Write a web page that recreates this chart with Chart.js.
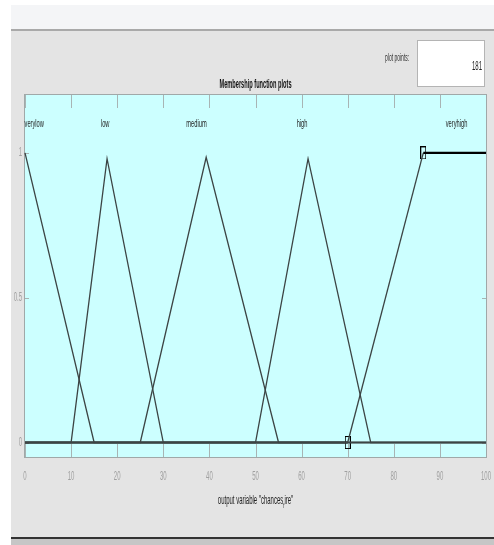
<!DOCTYPE html>
<html>
<head>
<meta charset="utf-8">
<script src="https://cdn.jsdelivr.net/npm/chart.js@4/dist/chart.umd.min.js"></script>
<style>
  html, body { margin: 0; padding: 0; background: #fff; }
  #wrap { width: 494px; height: 545px; }
</style>
</head>
<body>
<div id="wrap"><canvas id="mfChart" width="494" height="545"></canvas></div>
<script>
// ── Data ──
const mfNames = ['verylow', 'low', 'medium', 'high', 'veryhigh'];
const verylowX  = [0, 15, 100];
const verylowY  = [1, 0, 0];
const lowX      = [0, 10, 17.8, 30, 100];
const lowY      = [0, 0, 0.98, 0, 0];
const mediumX   = [0, 25, 39.3, 55, 100];
const mediumY   = [0, 0, 0.985, 0, 0];
const highX     = [0, 50, 61.4, 75, 100];
const highY     = [0, 0, 0.98, 0, 0];
const veryhighX = [0, 70, 86.4, 100];
const veryhighY = [0, 0, 1, 1];
const labelX    = [2, 17.4, 37.2, 60.1, 93.6];
const labelY    = 1.1;
const handleIdx = [1, 2];            // selected MF vertices shown with handles
const xTicks    = [0, 10, 20, 30, 40, 50, 60, 70, 80, 90, 100];
const yTicks    = [0, 0.5, 1];
const yTickText = ['0', '0.5', '1'];
const plotPoints = '181';

const pts = (xs, ys) => xs.map((x, i) => ({ x, y: ys[i] }));

// tall thin handle marker like MATLAB's vertex handles
const handle = document.createElement('canvas');
handle.width = 6; handle.height = 13;
(() => {
  const c = handle.getContext('2d');
  c.strokeStyle = '#000'; c.lineWidth = 1;
  c.strokeRect(0.5, 0.5, 5, 12);
})();

// squeezed text helper (the screenshot's fonts are horizontally compressed)
function sText(ctx, text, x, y, font, color, align, sx) {
  ctx.save();
  ctx.font = font;
  ctx.fillStyle = color;
  ctx.textBaseline = 'middle';
  ctx.textAlign = 'left';
  const w = ctx.measureText(text).width * sx;
  const left = align === 'center' ? x - w / 2 : align === 'right' ? x - w : x;
  ctx.translate(left, y);
  ctx.scale(sx, 1);
  ctx.fillText(text, 0, 0);
  ctx.restore();
  return w;
}

const FONT = "'Liberation Sans', Arial, sans-serif";

const frame = {
  id: 'matlabFrame',
  beforeDraw(chart) {
    const { ctx, chartArea: a } = chart;
    ctx.save();
    ctx.fillStyle = '#ffffff';
    ctx.fillRect(0, 0, 494, 545);
    ctx.fillStyle = '#f4f5f7';
    ctx.fillRect(11, 5, 483, 24);
    ctx.fillStyle = '#a9a9a9';
    ctx.fillRect(11, 29, 483, 2);
    ctx.fillStyle = '#e4e4e4';
    ctx.fillRect(11, 31, 483, 506);
    ctx.fillStyle = '#333333';
    ctx.fillRect(11, 537, 483, 2);
    ctx.fillStyle = '#c6c6c6';
    ctx.fillRect(11, 539, 483, 6);

    // plot points box
    ctx.fillStyle = '#ffffff';
    ctx.fillRect(417, 40, 68, 47);
    ctx.strokeStyle = '#b4b4b4';
    ctx.lineWidth = 1;
    ctx.strokeRect(417.5, 40.5, 67, 46);

    // axes background
    ctx.fillStyle = '#ccffff';
    ctx.fillRect(a.left, a.top, a.right - a.left, a.bottom - a.top);
    ctx.restore();
  },
  beforeDatasetsDraw(chart) {
    const { ctx, chartArea: a, scales: { x, y } } = chart;
    ctx.save();
    ctx.strokeStyle = '#a8b4b4';
    ctx.lineWidth = 1;
    xTicks.forEach(v => {
      const px = Math.round(x.getPixelForValue(v)) + 0.5;
      ctx.beginPath();
      ctx.moveTo(px, a.top); ctx.lineTo(px, a.top + 13);
      ctx.moveTo(px, a.bottom); ctx.lineTo(px, a.bottom - 13);
      ctx.stroke();
    });
    yTicks.forEach(v => {
      const py = Math.round(y.getPixelForValue(v)) + 0.5;
      ctx.beginPath();
      ctx.moveTo(a.left, py); ctx.lineTo(a.left + 4, py);
      ctx.moveTo(a.right, py); ctx.lineTo(a.right - 4, py);
      ctx.stroke();
    });
    ctx.strokeStyle = '#a0a8a8';
    ctx.strokeRect(a.left - 0.5, a.top - 0.5, a.right - a.left + 1, a.bottom - a.top + 1);
    ctx.restore();
  },
  afterDraw(chart) {
    const { ctx, chartArea: a, scales: { x, y } } = chart;
    // tick labels
    xTicks.forEach(v => {
      sText(ctx, String(v), x.getPixelForValue(v), 477, '12px ' + FONT, '#a0a0a0', 'center', 0.5);
    });
    yTicks.forEach((v, i) => {
      sText(ctx, yTickText[i], 22, y.getPixelForValue(v), '12px ' + FONT, '#a0a0a0', 'right', 0.5);
    });
    // MF names
    mfNames.forEach((n, i) => {
      sText(ctx, n, x.getPixelForValue(labelX[i]), y.getPixelForValue(labelY), '11px ' + FONT, '#222', 'center', 0.52);
    });
    // title
    sText(ctx, 'Membership function plots', (a.left + a.right) / 2, 85, 'bold 12px ' + FONT, '#111', 'center', 0.47);
    // plot points
    sText(ctx, 'plot points:', 385, 58, '10px ' + FONT, '#333', 'left', 0.5);
    sText(ctx, plotPoints, 482, 67, '12px ' + FONT, '#222', 'right', 0.5);
    // x axis label with TeX-style subscript
    const p1 = 'output variable "chances', p2 = 'f', p3 = 'ire"';
    ctx.save();
    ctx.font = '12px ' + FONT;
    const w1 = ctx.measureText(p1).width * 0.5, w3 = ctx.measureText(p3).width * 0.5;
    ctx.font = '8px ' + FONT;
    const w2 = ctx.measureText(p2).width * 0.5;
    ctx.restore();
    let sx0 = (a.left + a.right) / 2 - (w1 + w2 + w3) / 2;
    sText(ctx, p1, sx0, 501, '12px ' + FONT, '#222', 'left', 0.5);
    sText(ctx, p2, sx0 + w1, 506, '8px ' + FONT, '#222', 'left', 0.5);
    sText(ctx, p3, sx0 + w1 + w2, 501, '12px ' + FONT, '#222', 'left', 0.5);
  }
};

const mfLine = (data, color, width) => ({
  data, showLine: true, borderColor: color, borderWidth: width,
  pointRadius: 0, tension: 0, fill: false, clip: 2
});

// selected MF: flat parts drawn heavy, the slope stays thin
const selected = mfLine(pts(veryhighX, veryhighY), '#000000', 2.2);
selected.segment = {
  borderWidth: c => c.p0.parsed.y === c.p1.parsed.y ? 2.2 : 1.3,
  borderColor: c => c.p0.parsed.y === c.p1.parsed.y ? '#000000' : '#3c4444'
};

new Chart(document.getElementById('mfChart'), {
  type: 'scatter',
  data: {
    datasets: [
      mfLine(pts(verylowX, verylowY), '#3c4444', 1.3),
      mfLine(pts(lowX, lowY), '#3c4444', 1.3),
      mfLine(pts(mediumX, mediumY), '#3c4444', 1.3),
      mfLine(pts(highX, highY), '#3c4444', 1.3),
      selected,
      {
        data: handleIdx.map(i => ({ x: veryhighX[i], y: veryhighY[i] })),
        showLine: false, pointStyle: handle, pointRadius: 4, clip: false
      }
    ]
  },
  options: {
    responsive: false,
    animation: false,
    devicePixelRatio: 1,
    layout: { padding: { left: 25, right: 8, top: 95, bottom: 88 } },
    scales: {
      x: { type: 'linear', min: 0, max: 100, display: false },
      y: { type: 'linear', min: -0.05, max: 1.2, display: false }
    },
    plugins: { legend: { display: false }, tooltip: { enabled: false } }
  },
  plugins: [frame]
});
</script>
</body>
</html>
